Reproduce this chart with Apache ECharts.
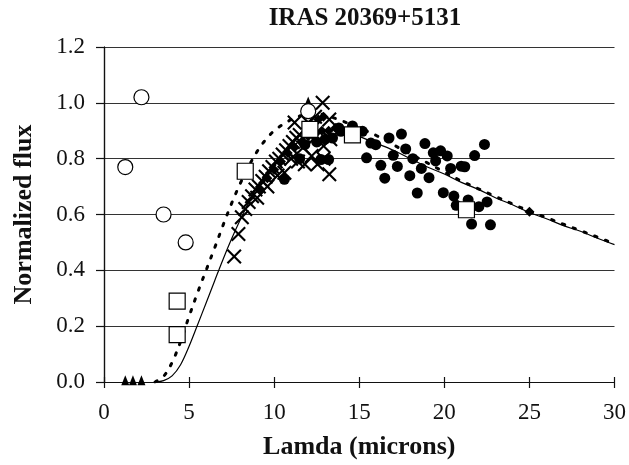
<!DOCTYPE html>
<html>
<head>
<meta charset="utf-8">
<script src="https://cdn.jsdelivr.net/npm/echarts@6/dist/echarts.min.js"></script>
<style>
  html, body { margin: 0; padding: 0; background: #fff; }
  #chart { width: 629px; height: 465px; }
</style>
</head>
<body>
<div id="chart"></div>
<script>
// Photometry and spectra: [wavelength (microns), normalized flux]
const nearIR = [[1.25, 0.77], [2.2, 1.02], [3.5, 0.60], [4.8, 0.50], [12.0, 0.97]];
const triangles = [[1.25, 0.006], [1.7, 0.006], [2.2, 0.006], [12.0, 1.005]];
const squares = [[4.3, 0.29], [4.3, 0.17], [8.3, 0.755], [12.1, 0.905], [14.6, 0.885], [21.3, 0.617]];
const crosses = [
  [7.65, 0.45], [7.9, 0.53], [8.1, 0.59], [8.3, 0.62], [8.5, 0.645], [8.7, 0.665],
  [8.9, 0.69], [9.1, 0.70], [9.3, 0.72], [9.5, 0.735], [9.7, 0.755], [9.9, 0.77],
  [10.1, 0.79], [10.3, 0.80], [10.5, 0.815], [10.7, 0.83], [10.9, 0.845], [11.1, 0.86],
  [11.3, 0.875], [11.5, 0.885], [11.0, 0.80], [11.4, 0.79], [11.8, 0.78], [12.2, 0.81],
  [12.55, 0.78], [12.9, 0.80], [13.24, 0.744], [12.0, 0.93], [12.4, 0.95], [12.85, 1.0],
  [11.7, 0.84], [12.3, 0.87], [13.24, 0.94], [12.9, 0.845], [10.2, 0.74], [10.6, 0.75],
  [9.0, 0.66], [9.6, 0.70], [11.2, 0.93], [13.3, 0.87]
];
const filledDots = [
  [10.6, 0.726], [11.5, 0.80], [11.8, 0.85], [12.5, 0.86], [12.75, 0.797], [13.0, 0.87],
  [13.2, 0.797], [13.43, 0.874], [13.8, 0.91], [13.92, 0.898], [14.6, 0.917], [15.19, 0.898],
  [15.68, 0.856], [15.97, 0.85], [15.43, 0.803], [16.27, 0.776], [16.5, 0.73], [16.75, 0.874],
  [17.0, 0.812], [17.24, 0.772], [17.48, 0.888], [17.73, 0.835], [17.97, 0.739], [18.15, 0.80],
  [18.41, 0.677], [18.65, 0.765], [18.86, 0.854], [19.1, 0.732], [19.35, 0.821], [19.49, 0.792],
  [19.78, 0.828], [19.94, 0.678], [20.17, 0.81], [20.37, 0.765], [20.56, 0.666], [20.7, 0.633],
  [20.99, 0.773], [21.2, 0.771], [21.4, 0.652], [21.6, 0.566], [21.78, 0.811], [22.03, 0.628],
  [22.36, 0.851], [22.51, 0.645], [22.71, 0.563]
];
const diamonds = [
  [9.2, 0.69], [9.6, 0.73], [10.0, 0.76], [10.4, 0.79], [10.8, 0.82], [11.2, 0.84],
  [11.6, 0.86], [12.0, 0.88], [12.4, 0.89], [12.8, 0.90], [13.2, 0.90], [13.6, 0.91],
  [12.6, 0.94], [12.9, 0.95], [25.0, 0.61]
];
// Model curves
const modelSolid = [
  [3.0, 0.0], [3.5, 0.005], [4.0, 0.022], [4.5, 0.062], [5.0, 0.128], [5.5, 0.205], [6.0, 0.283],
  [6.5, 0.362], [7.0, 0.44], [7.5, 0.513], [8.0, 0.58], [8.5, 0.642], [9.0, 0.698], [10, 0.78],
  [11, 0.84], [12, 0.88], [13, 0.90], [14, 0.905], [15, 0.88], [16, 0.855], [17, 0.83],
  [18, 0.80], [19, 0.77], [20, 0.745], [21, 0.715], [22, 0.69], [23, 0.66], [24, 0.635],
  [25, 0.607], [26, 0.585], [27, 0.56], [28, 0.54], [29, 0.515], [30, 0.492]
];
const modelDotted = [
  [3.0, 0.0], [3.5, 0.02], [4.0, 0.07], [4.5, 0.145], [5.0, 0.235], [5.5, 0.32], [6.0, 0.40],
  [6.5, 0.48], [7.0, 0.562], [7.5, 0.64], [8.0, 0.71], [8.5, 0.772], [9.0, 0.826], [9.5, 0.868],
  [10, 0.90], [10.5, 0.922], [11, 0.94], [11.5, 0.953], [12, 0.96], [12.5, 0.961], [13, 0.956],
  [14, 0.935], [15, 0.91], [16, 0.883], [17, 0.85], [18, 0.817], [19, 0.785], [20, 0.752],
  [21, 0.72], [22, 0.692], [23, 0.665], [24, 0.638], [25, 0.612], [26, 0.589], [27, 0.565],
  [28, 0.542], [29, 0.519], [30, 0.495]
];

const serif = '"Liberation Serif", "DejaVu Serif", serif';
const crossPath = 'path://M0,1L1,0L5,4L9,0L10,1L6,5L10,9L9,10L5,6L1,10L0,9L4,5Z';

const chart = echarts.init(document.getElementById('chart'), null, { renderer: 'canvas' });
chart.setOption({
  backgroundColor: '#fff',
  animation: false,
  title: {
    text: 'IRAS 20369+5131',
    left: 360, top: 1, textAlign: 'center',
    textStyle: { fontFamily: serif, fontWeight: 'bold', fontSize: 25, color: '#111' }
  },
  grid: { left: 104, right: 13, top: 47, bottom: 81 },
  xAxis: [{
    type: 'value', min: 0, max: 30, interval: 5,
    name: 'Lamda (microns)', nameLocation: 'middle', nameGap: 52,
    nameTextStyle: { fontFamily: serif, fontWeight: 'bold', fontSize: 26, color: '#111' },
    axisLine: { lineStyle: { color: '#111', width: 1.2 } },
    axisTick: { length: 6, lineStyle: { color: '#111', width: 1.2 } },
    axisLabel: { fontFamily: serif, fontSize: 23, color: '#111', margin: 19 },
    splitLine: { show: false }
  }, {
    type: 'value', min: 0, max: 30, interval: 5, position: 'bottom',
    axisLine: { show: false },
    axisTick: { inside: true, length: 5, lineStyle: { color: '#111', width: 1.2 } },
    axisLabel: { show: false }, splitLine: { show: false }
  }],
  yAxis: [{
    type: 'value', min: 0, max: 1.2, interval: 0.2,
    name: 'Normalized flux', nameLocation: 'middle', nameGap: 67,
    nameTextStyle: { fontFamily: serif, fontWeight: 'bold', fontSize: 26, color: '#111' },
    axisLine: { show: true, lineStyle: { color: '#111', width: 1.2 } },
    axisTick: { show: true, length: 8, lineStyle: { color: '#111', width: 1.2 } },
    axisLabel: { fontFamily: serif, fontSize: 23, color: '#111', margin: 19,
      formatter: v => v.toFixed(1) },
    splitLine: { show: true, lineStyle: { color: '#333', width: 1.2 } }
  }, {
    type: 'value', min: 0, max: 1.2, interval: 0.2, position: 'right',
    axisLine: { show: true, lineStyle: { color: '#111', width: 1.2 } },
    axisTick: { show: false }, axisLabel: { show: false }, splitLine: { show: false }
  }],
  series: [
    { type: 'line', data: modelSolid, smooth: 0.35, showSymbol: false, z: 2,
      lineStyle: { color: '#000', width: 1.2 } },
    { type: 'line', data: modelDotted, smooth: 0.35, showSymbol: false, z: 2,
      lineStyle: { color: '#000', width: 3, type: [2.5, 9], cap: 'round' } },
    { type: 'scatter', data: crosses, symbol: crossPath, symbolSize: 15, z: 3,
      itemStyle: { color: '#000', opacity: 1 } },
    { type: 'scatter', data: filledDots, symbol: 'circle', symbolSize: 11, z: 4,
      itemStyle: { color: '#000', opacity: 1 } },
    { type: 'scatter', data: diamonds, symbol: 'diamond', symbolSize: 10, z: 4,
      itemStyle: { color: '#000', opacity: 1 } },
    { type: 'scatter', data: triangles, symbol: 'triangle', symbolSize: [8, 10], z: 5,
      itemStyle: { color: '#000', opacity: 1 } },
    { type: 'scatter', data: nearIR, symbol: 'circle', symbolSize: 15, z: 5,
      itemStyle: { color: '#fff', borderColor: '#000', borderWidth: 1.2, opacity: 1 } },
    { type: 'scatter', data: squares, symbol: 'rect', symbolSize: 16, z: 6,
      itemStyle: { color: '#fff', borderColor: '#000', borderWidth: 1.2, opacity: 1 } }
  ]
});
</script>
</body>
</html>
